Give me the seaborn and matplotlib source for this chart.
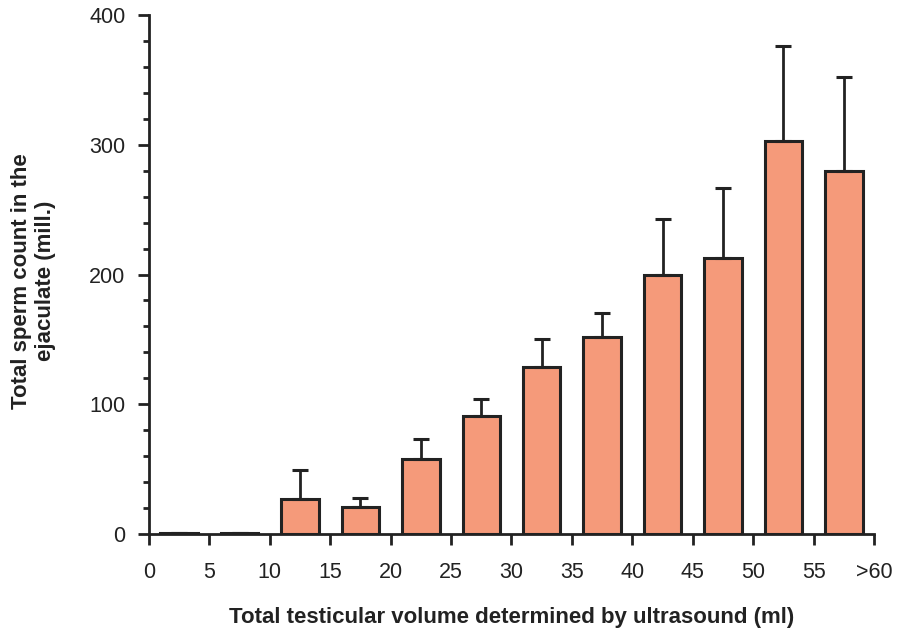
import numpy as np
import pandas as pd
import seaborn as sns
import matplotlib.pyplot as plt

# bins of testicular volume (ml), bar centres, mean count and upper SE
bin_centres = [2.5, 7.5, 12.5, 17.5, 22.5, 27.5, 32.5, 37.5, 42.5, 47.5, 52.5, 57.5]
sperm_count = [1, 1, 27, 21, 58, 91, 129, 152, 200, 213, 303, 280]
upper_err = [0, 0, 22, 7, 15, 13, 21, 18, 43, 54, 73, 72]
tick_pos = [0, 5, 10, 15, 20, 25, 30, 35, 40, 45, 50, 55, 60]
tick_labels = ["0", "5", "10", "15", "20", "25", "30", "35", "40", "45", "50", "55", ">60"]

df = pd.DataFrame({"volume": bin_centres, "count": sperm_count, "err": upper_err})

sns.set_style("ticks")
plt.rcParams["font.family"] = ["Liberation Sans", "DejaVu Sans"]

fig = plt.figure(figsize=(9.04, 6.32), dpi=100)
ax = fig.add_axes([0.1648, 0.155, 0.802, 0.8213])

sns.barplot(data=df, x="volume", y="count", native_scale=True, width=0.62,
            color="#F59A7A", saturation=1, edgecolor="#222222", linewidth=2.2,
            errorbar=None, ax=ax)

ax.errorbar(df["volume"], df["count"], yerr=[np.zeros(len(df)), df["err"]],
            fmt="none", ecolor="#222222", elinewidth=2, capsize=6, capthick=2.2,
            zorder=1)

ax.set_xlim(0, 60)
ax.set_ylim(0, 400)
ax.set_xticks(tick_pos)
ax.set_xticklabels(tick_labels)
ax.set_yticks([0, 100, 200, 300, 400])
ax.set_yticks(np.arange(0, 401, 20), minor=True)

sns.despine(ax=ax)
for s in ["left", "bottom"]:
    ax.spines[s].set_linewidth(2)
    ax.spines[s].set_color("#222222")
ax.tick_params(axis="both", which="major", length=8, width=2, color="#222222",
               labelsize=15.5, labelcolor="#222222")
ax.tick_params(axis="y", which="major", pad=9)
ax.tick_params(axis="y", which="minor", length=4, width=2, color="#222222")
ax.tick_params(axis="x", pad=12)

ax.set_xlabel("Total testicular volume determined by ultrasound (ml)",
              fontsize=16, fontweight="bold", color="#222222")
ax.xaxis.label.set_verticalalignment("center")
ax.xaxis.set_label_coords(0.5, -0.16)
ax.set_ylabel("Total sperm count in the\nejaculate (mill.)",
              fontsize=16, fontweight="bold", color="#222222")
ax.yaxis.label.set_verticalalignment("center")
ax.yaxis.set_label_coords(-0.159, 0.487)

fig.savefig("out.png", dpi=100)
